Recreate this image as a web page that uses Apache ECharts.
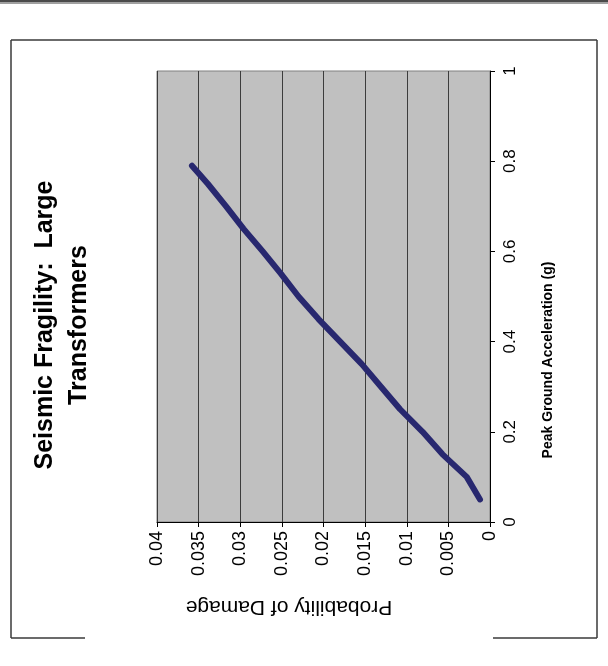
<!DOCTYPE html>
<html>
<head>
<meta charset="utf-8">
<script src="https://cdn.jsdelivr.net/npm/echarts@6/dist/echarts.min.js"></script>
<style>
  html, body { margin: 0; padding: 0; background: #ffffff; }
  #chart { width: 608px; height: 666px; }
</style>
</head>
<body>
<div id="chart"></div>
<script>
// Fragility curve for large transformers: peak ground acceleration (g)
// against probability of damage. The page is laid out sideways, so the
// probability axis runs along the bottom (reversed) and PGA up the right.
const pga = [0.05, 0.10, 0.15, 0.20, 0.25, 0.30, 0.35, 0.40, 0.45, 0.50, 0.55, 0.60, 0.65, 0.70, 0.75, 0.79];
const probability = [0.0012, 0.0028, 0.0057, 0.0081, 0.0108, 0.0131, 0.0154, 0.0180, 0.0206, 0.0230, 0.0251, 0.0273, 0.0296, 0.0317, 0.0339, 0.0358];

const titleLines = ['Seismic Fragility:  Large', 'Transformers'];
const pgaAxisName = 'Peak Ground Acceleration (g)';
const probAxisName = 'Probability of Damage';

const FONT = '"Liberation Sans", Arial, sans-serif';
const curve = pga.map((g, i) => [probability[i], g]);

const chart = echarts.init(document.getElementById('chart'), null, { renderer: 'canvas' });

const frame = '#3a3a3a';
chart.setOption({
  animation: false,
  backgroundColor: '#ffffff',
  grid: {
    left: 157, top: 71, width: 333, height: 451,
    show: true, backgroundColor: '#c0c0c0', borderColor: '#808080', borderWidth: 1,
    containLabel: false
  },
  xAxis: {
    type: 'value', position: 'bottom', inverse: true,
    min: 0, max: 0.04, interval: 0.005,
    axisLine: { show: true, onZero: false, lineStyle: { color: '#000', width: 1 } },
    axisTick: { show: true, inside: false, length: 5, lineStyle: { color: '#000' } },
    axisLabel: { rotate: 90, margin: 9, color: '#000', fontFamily: FONT, fontSize: 18 },
    splitLine: { show: true, lineStyle: { color: '#3c3c3c', width: 1 } }
  },
  yAxis: {
    type: 'value', position: 'right',
    min: 0, max: 1, interval: 0.2,
    axisLine: { show: true, onZero: false, lineStyle: { color: '#000', width: 1 } },
    axisTick: { show: true, inside: false, length: 5, lineStyle: { color: '#000' } },
    axisLabel: { rotate: 90, margin: 12, color: '#000', fontFamily: FONT, fontSize: 17 },
    splitLine: { show: false }
  },
  series: [{
    type: 'line',
    data: curve,
    showSymbol: false,
    smooth: false,
    lineStyle: { color: '#28286f', width: 6, cap: 'round', join: 'round' },
    silent: true
  }],
  graphic: [
    // page rule along the top edge
    { type: 'rect', shape: { x: 0, y: 0, width: 608, height: 2 }, style: { fill: '#4a4a4a' }, silent: true },
    { type: 'rect', shape: { x: 0, y: 2, width: 608, height: 2 }, style: { fill: '#a0a0a0' }, silent: true },
    // outer frame of the chart
    { type: 'line', shape: { x1: 11, y1: 40, x2: 597, y2: 40 }, style: { stroke: frame, lineWidth: 1.5 }, silent: true },
    { type: 'line', shape: { x1: 11, y1: 40, x2: 11, y2: 638 }, style: { stroke: frame, lineWidth: 1.5 }, silent: true },
    { type: 'line', shape: { x1: 597, y1: 40, x2: 597, y2: 638 }, style: { stroke: frame, lineWidth: 1.5 }, silent: true },
    { type: 'line', shape: { x1: 11, y1: 638, x2: 85, y2: 638 }, style: { stroke: frame, lineWidth: 1.5 }, silent: true },
    { type: 'line', shape: { x1: 493, y1: 638, x2: 597, y2: 638 }, style: { stroke: frame, lineWidth: 1.5 }, silent: true },
    // chart title, reading upward
    {
      type: 'text', x: 62, y: 325, rotation: Math.PI / 2, silent: true,
      style: {
        text: titleLines.join('\n'), fill: '#000', align: 'center', verticalAlign: 'middle',
        font: 'bold 25px ' + FONT, lineHeight: 34
      }
    },
    // PGA axis title
    {
      type: 'text', x: 548, y: 360, rotation: Math.PI / 2, silent: true,
      style: {
        text: pgaAxisName, fill: '#000', align: 'center', verticalAlign: 'middle',
        font: 'bold 14px ' + FONT
      }
    },
    // probability axis title (upside down)
    {
      type: 'text', x: 289, y: 607, rotation: Math.PI, silent: true,
      style: {
        text: probAxisName, fill: '#000', align: 'center', verticalAlign: 'middle',
        font: '21px ' + FONT
      }
    }
  ]
});
</script>
</body>
</html>
